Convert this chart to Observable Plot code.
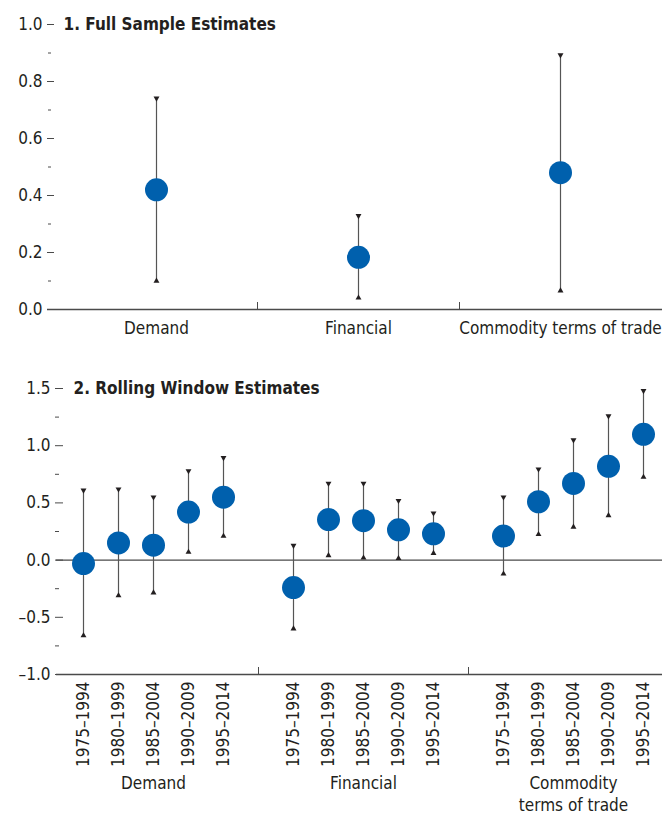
<!DOCTYPE html>
<html><head><meta charset="utf-8">
<script src="https://cdn.jsdelivr.net/npm/d3@7"></script>
<script src="https://cdn.jsdelivr.net/npm/@observablehq/plot@0.6"></script>
<style>
body{margin:0;background:#fff;}
#chart{width:662px;}
#chart svg{display:block;}
</style></head><body><div id="chart"></div>
<script>
// ---- data ----
const groups = ["Demand", "Financial", "Commodity terms of trade"];
const groupLabels = ["Demand", "Financial", "Commodity\nterms of trade"];
const fullEst = [0.42, 0.183, 0.48];
const fullLow = [0.10, 0.041, 0.066];
const fullHigh = [0.741, 0.329, 0.893];

const periods = ["1975–1994", "1980–1999", "1985–2004", "1990–2009", "1995–2014"];
const demandEst = [-0.03, 0.15, 0.13, 0.42, 0.55];
const demandLow = [-0.66, -0.31, -0.285, 0.07, 0.21];
const demandHigh = [0.61, 0.62, 0.55, 0.78, 0.895];
const financialEst = [-0.24, 0.354, 0.345, 0.265, 0.23];
const financialLow = [-0.60, 0.04, 0.02, 0.015, 0.06];
const financialHigh = [0.128, 0.67, 0.67, 0.52, 0.41];
const commodityEst = [0.21, 0.51, 0.67, 0.82, 1.10];
const commodityLow = [-0.12, 0.225, 0.29, 0.39, 0.725];
const commodityHigh = [0.55, 0.795, 1.05, 1.26, 1.48];

const topMajor = [0, 0.2, 0.4, 0.6, 0.8, 1.0];
const topMinor = [0.1, 0.3, 0.5, 0.7, 0.9];
const botMajor = [-1.0, -0.5, 0, 0.5, 1.0, 1.5];
const botMinor = [-0.75, -0.25, 0.25, 0.75, 1.25];
const title1 = "1. Full Sample Estimates";
const title2 = "2. Rolling Window Estimates";

// ---- tables ----
const seps = ["sep1", "sep2"];
const fullData = groups.map((g, i) => ({key: g, est: fullEst[i], low: fullLow[i], high: fullHigh[i]}));
const topDomain = [groups[0], seps[0], groups[1], seps[1], groups[2]];

const rollEst = [demandEst, financialEst, commodityEst];
const rollLow = [demandLow, financialLow, commodityLow];
const rollHigh = [demandHigh, financialHigh, commodityHigh];
const rollData = groups.flatMap((g, gi) => periods.map((p, pi) => ({
  key: g + "|" + p, est: rollEst[gi][pi], low: rollLow[gi][pi], high: rollHigh[gi][pi]
})));
const groupKeys = groups.map(g => periods.map(p => g + "|" + p));
const botDomain = [...groupKeys[0], seps[0], ...groupKeys[1], seps[1], ...groupKeys[2]];
const groupCenters = groups.map((g, i) => ({key: g + "|" + periods[2], label: groupLabels[i]}));

// ---- style ----
const FONT = '"Liberation Sans Narrow","Arial Narrow","DejaVu Sans Condensed",sans-serif';
const blue = "#0060ad";
const ink = "#231f20";
const axisColor = "#4a4a4a";
const barColor = "#555";
const fmt = d => d.toFixed(1).replace("-", "\u2013");
const style = {fontFamily: FONT, fontSize: "17px", color: ink, background: "white", overflow: "visible"};

function errorMarks(data) {
  return [
    Plot.ruleX(data, {x: "key", y1: "low", y2: "high", stroke: barColor, strokeWidth: 1.2}),
    Plot.dot(data, {x: "key", y: "high", symbol: "triangle", r: 2.2, fill: ink, rotate: 180}),
    Plot.dot(data, {x: "key", y: "low", symbol: "triangle", r: 2.2, fill: ink}),
    Plot.dot(data, {x: "key", y: "est", r: 11.5, fill: blue})
  ];
}

const topPlot = Plot.plot({
  width: 662, height: 352,
  marginTop: 24, marginBottom: 43, marginLeft: 56, marginRight: 0,
  style,
  x: {type: "point", domain: topDomain, range: [156, 560], padding: 0},
  y: {domain: [0, 1], label: null},
  marks: [
    Plot.ruleY([0], {insetLeft: -9, stroke: axisColor, strokeWidth: 1.5}),
    Plot.axisY(topMajor, {tickSize: 7, dx: -2, tickPadding: 5, tickFormat: fmt, label: null, stroke: axisColor}),
    Plot.axisY(topMinor, {tickSize: 3, dx: -5, tickFormat: () => "", label: null, stroke: axisColor}),
    Plot.axisX(groups, {tickSize: 0, tickPadding: 12, label: null}),
    Plot.axisX(seps, {tickSize: -7, tickPadding: 0, tickFormat: () => "", label: null, stroke: axisColor}),
    ...errorMarks(fullData),
    Plot.text([title1], {text: d => d, frameAnchor: "top-left", dx: 7, lineAnchor: "middle", textAnchor: "start", fontWeight: "bold"})
  ]
});

const botPlot = Plot.plot({
  width: 662, height: 465,
  marginTop: 36, marginBottom: 143, marginLeft: 65, marginRight: 0,
  style,
  x: {type: "point", domain: botDomain, range: [81, 645], padding: 0},
  y: {domain: [-1, 1.5], label: null},
  marks: [
    Plot.ruleY([-1], {insetLeft: -9, stroke: axisColor, strokeWidth: 1.5}),
    Plot.ruleY([0], {insetLeft: -9, stroke: axisColor, strokeWidth: 1.2}),
    Plot.axisY(botMajor, {tickSize: 8, dx: -2, tickPadding: 5, tickFormat: fmt, label: null, stroke: axisColor}),
    Plot.axisY(botMinor, {tickSize: 4, dx: -6, tickFormat: () => "", label: null, stroke: axisColor}),
    Plot.axisX(groupKeys.flat(), {tickSize: 0, tickPadding: 7, tickRotate: -90, tickFormat: d => d.split("|")[1], label: null}),
    Plot.axisX(seps, {tickSize: -7, tickPadding: 0, tickFormat: () => "", label: null, stroke: axisColor}),
    ...errorMarks(rollData),
    Plot.text(groupCenters, {x: "key", text: "label", frameAnchor: "bottom", dy: 98, lineAnchor: "top", lineHeight: 1.33}),
    Plot.text([title2], {text: d => d, frameAnchor: "top-left", dx: 8, lineAnchor: "middle", textAnchor: "start", fontWeight: "bold"})
  ]
});

const chart = document.getElementById("chart");
chart.appendChild(topPlot);
chart.appendChild(botPlot);
</script>
</body></html>
